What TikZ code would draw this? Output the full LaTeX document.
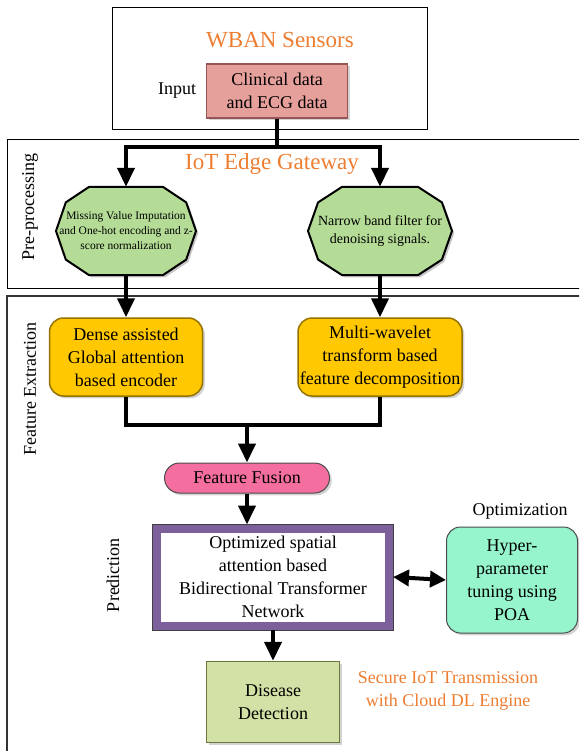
\documentclass[tikz,border=0pt]{standalone}
\usepackage{fontspec}
\setmainfont{Liberation Serif}
\usetikzlibrary{arrows.meta,calc,shadows,positioning}

\definecolor{wbanorange}{RGB}{237,125,49}
\definecolor{clinfill}{RGB}{230,160,155}
\definecolor{clindraw}{RGB}{150,85,85}
\definecolor{octgreen}{RGB}{180,220,150}
\definecolor{encyellow}{RGB}{255,200,0}
\definecolor{encdraw}{RGB}{150,115,0}
\definecolor{fusepink}{RGB}{245,110,160}
\definecolor{bitpurple}{RGB}{125,95,155}
\definecolor{poagreen}{RGB}{150,245,205}
\definecolor{detgreen}{RGB}{210,225,165}
\definecolor{detdraw}{RGB}{110,120,60}

\tikzset{
  frame/.style={draw=black, line width=1pt},
  body/.style={align=center, font=\fontsize{18}{23}\selectfont},
  title/.style={text=wbanorange, font=\fontsize{23}{27}\selectfont},
  link/.style={line width=4pt},
  flow/.style={line width=4pt, -{Triangle[length=19pt,width=17pt]}},
  both/.style={line width=4pt, {Triangle[length=16pt,width=16pt]}-{Triangle[length=16pt,width=16pt]}},
  clinbox/.style={body, draw=clindraw, line width=1.5pt, fill=clinfill,
    minimum width=141pt, minimum height=54pt, inner sep=2pt, drop shadow={opacity=.35}},
  decag/.style={draw=black, line width=2pt, fill=octgreen, drop shadow={opacity=.45}},
  encbox/.style={body, draw=encdraw, line width=1.5pt, fill=encyellow, rounded corners=14pt,
    minimum height=78pt, inner sep=1pt, drop shadow={opacity=.35}},
  fusebox/.style={body, draw=black!70, line width=1pt, fill=fusepink, rounded corners=15pt,
    minimum width=165pt, minimum height=30pt, inner sep=1pt, drop shadow={opacity=.35}},
  bitbox/.style={body, preaction={draw=black!75, line width=10pt}, draw=bitpurple, line width=8pt,
    fill=white, minimum width=232pt, minimum height=97pt, inner sep=1pt},
  poabox/.style={body, draw=black!70, line width=1pt, fill=poagreen, rounded corners=14pt,
    minimum width=131pt, minimum height=106pt, inner sep=1pt, drop shadow={opacity=.35}},
  detbox/.style={body, draw=detdraw, line width=1.5pt, fill=detgreen,
    minimum width=133pt, minimum height=81pt, drop shadow={opacity=.35}},
  side/.style={body, rotate=90}
}

% stretched ten-sided shape round a centre
\newcommand{\decagon}[3]{%
  \draw[decag] ($(#1)+(0.53*#2,-#3)$) -- ($(#1)+(0.86*#2,-0.65*#3)$) -- ($(#1)+(#2,0)$)
    -- ($(#1)+(0.86*#2,0.65*#3)$) -- ($(#1)+(0.53*#2,#3)$) -- ($(#1)+(-0.53*#2,#3)$)
    -- ($(#1)+(-0.86*#2,0.65*#3)$) -- ($(#1)+(-#2,0)$) -- ($(#1)+(-0.86*#2,-0.65*#3)$)
    -- ($(#1)+(-0.53*#2,-#3)$) -- cycle;}

\begin{document}
\begin{tikzpicture}[x=1pt,y=-1pt]
  \useasboundingbox (0,0) rectangle (579,751);
  \clip (0,0) rectangle (579,751);

  % sensors
  \draw[frame] (112,8) rectangle (427,130);
  \node[title] (wban) at (280,40) {WBAN Sensors};
  \node[clinbox] (clin) at (277,91) {Clinical data\\and ECG data};
  \node[body, left=6pt of clin] (input) {Input};

  % pre-processing
  \draw[frame] (7,140) rectangle (600,288);
  \node[side] (prep) at (30,207) {Pre-processing};
  \node[title] (edge) at (272,164) {IoT Edge Gateway};
  \coordinate (mvic) at (126,231);
  \coordinate (nbfc) at (380,231);
  \decagon{mvic}{70}{44}
  \decagon{nbfc}{72}{44}
  \node[align=center, font=\fontsize{11.5}{15}\selectfont, minimum width=141pt, minimum height=88pt,
    inner sep=0pt] (mvi) at (mvic) {Missing Value Imputation\\and One-hot encoding and z-\\score normalization};
  \node[align=center, font=\fontsize{14}{18}\selectfont, minimum width=144pt, minimum height=88pt,
    inner sep=0pt] (nbf) at (nbfc) {Narrow band filter for\\denoising signals.};

  \coordinate (split) at (277,147);
  \draw[link] (clin.south) -- (split);
  \draw[flow] (split) -| (mvi.north);
  \draw[flow] (split) -| (nbf.north);

  % feature extraction
  \draw[draw=black!80, line width=1.5pt] (7,800) -- (7,296) -- (600,296);
  \node[side] (featx) at (30,389) {Feature Extraction};
  \node[encbox, minimum width=153pt] (dge) at (126,357) {Dense assisted\\Global attention\\based encoder};
  \node[encbox, minimum width=164pt] (mwt) at (380,357) {Multi-wavelet\\transform based\\feature decomposition};
  \draw[flow] (mvi.south) -- (dge.north);
  \draw[flow] (nbf.south) -- (mwt.north);

  \node[fusebox] (fuse) at (247,478) {Feature Fusion};
  \coordinate (merge) at (247,425);
  \draw[link] (dge.south) |- (merge) -| (mwt.south);
  \draw[flow] (merge) -- (fuse.north);

  % prediction
  \node[side] (pred) at (113,575) {Prediction};
  \node[bitbox] (bit) at (273,577) {Optimized spatial\\attention based\\Bidirectional Transformer\\Network};
  \draw[flow] (fuse.south) -- (fuse.south |- bit.north);

  \node[body] (optl) at (520,511) {Optimization};
  \node[poabox] (poa) at (512,580) {Hyper-\\parameter\\tuning using\\POA};
  \draw[both] (bit.east) -- (poa.west);

  \node[detbox] (det) at (273,702) {Disease\\Detection};
  \draw[flow] (bit.south) -- (det.north);

  \node[body, text=wbanorange] (cloud) at (448,691) {Secure IoT Transmission\\with Cloud DL Engine};
\end{tikzpicture}
\end{document}
